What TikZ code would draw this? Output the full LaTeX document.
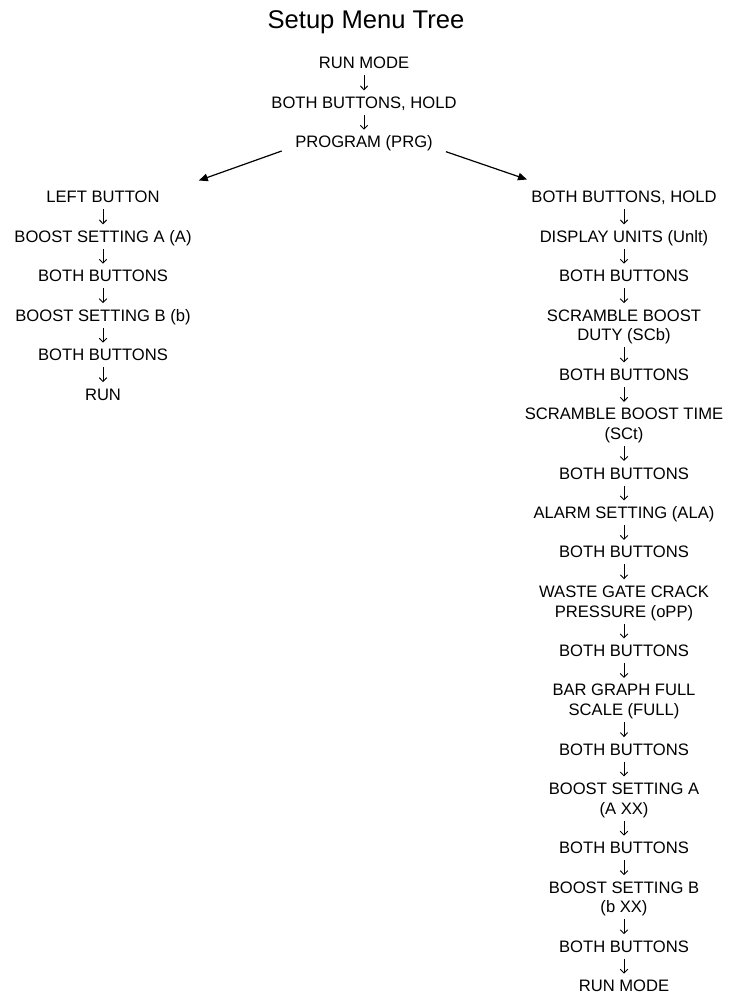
\documentclass[tikz,border=0pt]{standalone}
\usepackage{fontspec}
\setmainfont{Liberation Sans}
\usetikzlibrary{arrows.meta}
\newcommand\yy[1]{197+19.72*#1}
\newcommand\ty[1]{63+19.72*#1}
\tikzset{
  txt/.style={inner sep=0pt, text height=11.9pt, text depth=0pt, font=\fontsize{16.6}{19.72}\selectfont},
  ttl/.style={inner sep=0pt, anchor=base, font=\fontsize{25.6}{30}\selectfont},
  dn/.style={draw, line width=0.9pt, -{Straight Barb[length=3.8pt,width=7.5pt]}, shorten <=6.3pt, shorten >=6pt},
  diag/.style={draw, line width=1.2pt, -{Triangle[length=9pt,width=7.5pt]}}
}
\begin{document}
\begin{tikzpicture}[x=1pt,y=-1pt]
\useasboundingbox (0,0) rectangle (739,994);
\node[ttl] (title) at (366,28) {Setup Menu Tree};
% top
\node[txt] (t1) at (364,{\ty{0}}) {RUN MODE};
\node[txt] (t2) at (364,{\ty{2}}) {BOTH BUTTONS, HOLD};
\node[txt] (t3) at (364,{\ty{4}}) {PROGRAM (PRG)};
\draw[dn] (t1) -- (t2);
\draw[dn] (t2) -- (t3);
% diagonal arrows
\coordinate (la) at (281.7,151);
\coordinate (lb) at (198.8,180.5);
\coordinate (ra) at (446,151.7);
\coordinate (rb) at (527,179.5);
\draw[diag] (la) -- (lb);
\draw[diag] (ra) -- (rb);
% left column
\node[txt] (l1) at (103,{\yy{0}}) {LEFT BUTTON};
\node[txt] (l2) at (103,{\yy{2}}) {BOOST SETTING A (A)};
\node[txt] (l3) at (103,{\yy{4}}) {BOTH BUTTONS};
\node[txt] (l4) at (103,{\yy{6}}) {BOOST SETTING B (b)};
\node[txt] (l5) at (103,{\yy{8}}) {BOTH BUTTONS};
\node[txt] (l6) at (103,{\yy{10}}) {RUN};
\draw[dn] (l1) -- (l2);
\draw[dn] (l2) -- (l3);
\draw[dn] (l3) -- (l4);
\draw[dn] (l4) -- (l5);
\draw[dn] (l5) -- (l6);
% right column
\node[txt] (r1) at (624,{\yy{0}}) {BOTH BUTTONS, HOLD};
\node[txt] (r2) at (624,{\yy{2}}) {DISPLAY UNITS (Unlt)};
\node[txt] (r3) at (624,{\yy{4}}) {BOTH BUTTONS};
\node[txt] (r4a) at (624,{\yy{6}}) {SCRAMBLE BOOST};
\node[txt] (r4b) at (624,{\yy{7}}) {DUTY (SCb)};
\node[txt] (r5) at (624,{\yy{9}}) {BOTH BUTTONS};
\node[txt] (r6a) at (624,{\yy{11}}) {SCRAMBLE BOOST TIME};
\node[txt] (r6b) at (624,{\yy{12}}) {(SCt)};
\node[txt] (r7) at (624,{\yy{14}}) {BOTH BUTTONS};
\node[txt] (r8) at (624,{\yy{16}}) {ALARM SETTING (ALA)};
\node[txt] (r9) at (624,{\yy{18}}) {BOTH BUTTONS};
\node[txt] (r10a) at (624,{\yy{20}}) {WASTE GATE CRACK};
\node[txt] (r10b) at (624,{\yy{21}}) {PRESSURE (oPP)};
\node[txt] (r11) at (624,{\yy{23}}) {BOTH BUTTONS};
\node[txt] (r12a) at (624,{\yy{25}}) {BAR GRAPH FULL};
\node[txt] (r12b) at (624,{\yy{26}}) {SCALE (FULL)};
\node[txt] (r13) at (624,{\yy{28}}) {BOTH BUTTONS};
\node[txt] (r14a) at (624,{\yy{30}}) {BOOST SETTING A};
\node[txt] (r14b) at (624,{\yy{31}}) {(A XX)};
\node[txt] (r15) at (624,{\yy{33}}) {BOTH BUTTONS};
\node[txt] (r16a) at (624,{\yy{35}}) {BOOST SETTING B};
\node[txt] (r16b) at (624,{\yy{36}}) {(b XX)};
\node[txt] (r17) at (624,{\yy{38}}) {BOTH BUTTONS};
\node[txt] (r18) at (624,{\yy{40}}) {RUN MODE};
\draw[dn] (r1) -- (r2);
\draw[dn] (r2) -- (r3);
\draw[dn] (r3) -- (r4a);
\draw[dn] (r4b) -- (r5);
\draw[dn] (r5) -- (r6a);
\draw[dn] (r6b) -- (r7);
\draw[dn] (r7) -- (r8);
\draw[dn] (r8) -- (r9);
\draw[dn] (r9) -- (r10a);
\draw[dn] (r10b) -- (r11);
\draw[dn] (r11) -- (r12a);
\draw[dn] (r12b) -- (r13);
\draw[dn] (r13) -- (r14a);
\draw[dn] (r14b) -- (r15);
\draw[dn] (r15) -- (r16a);
\draw[dn] (r16b) -- (r17);
\draw[dn] (r17) -- (r18);
\end{tikzpicture}
\end{document}
